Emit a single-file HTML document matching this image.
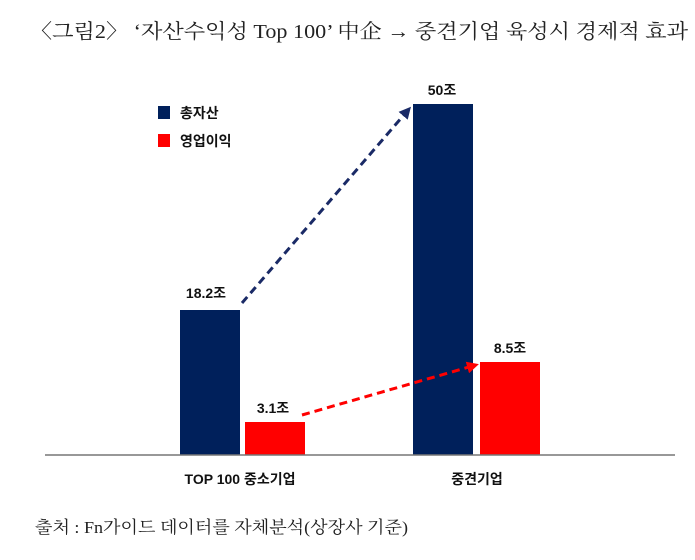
<!DOCTYPE html>
<html><head><meta charset="utf-8"><style>
body{margin:0;background:#fff;width:695px;height:555px;overflow:hidden}
</style></head><body>
<svg width="695" height="555" xmlns="http://www.w3.org/2000/svg">
<defs>
<marker id="an" markerWidth="4" markerHeight="4" refX="3" refY="2" orient="auto" markerUnits="strokeWidth"><path d="M0,0 L4,2 L0,4 z" fill="#1a2a66"/></marker>
<marker id="ar" markerWidth="4" markerHeight="4" refX="3" refY="2" orient="auto" markerUnits="strokeWidth"><path d="M0,0 L4,2 L0,4 z" fill="#ff0000"/></marker>
</defs>
<text x="30" y="38" textLength="658" lengthAdjust="spacingAndGlyphs" font-family="'Liberation Serif','Noto Serif CJK SC',serif" font-size="20" fill="#222">〈그림2〉 ‘자산수익성 Top 100’ 中企 → 중견기업 육성시 경제적 효과</text>
<rect x="158" y="106" width="12" height="13" fill="#00205b"/>
<text x="180" y="118" font-family="'Liberation Sans','Noto Sans CJK KR',sans-serif" font-size="14" font-weight="bold" fill="#111">총자산</text>
<rect x="158" y="134" width="12" height="13" fill="#ff0000"/>
<text x="180" y="146" font-family="'Liberation Sans','Noto Sans CJK KR',sans-serif" font-size="14" font-weight="bold" fill="#111">영업이익</text>
<rect x="180" y="310" width="60" height="145" fill="#00205b"/>
<rect x="245" y="422" width="60" height="33" fill="#ff0000"/>
<rect x="413" y="104" width="60" height="351" fill="#00205b"/>
<rect x="480" y="362" width="60" height="93" fill="#ff0000"/>
<line x1="45" y1="455" x2="675" y2="455" stroke="#777" stroke-width="1.5"/>
<line x1="242" y1="303" x2="409" y2="109" stroke="#1a2a66" stroke-width="3" stroke-dasharray="8,5" marker-end="url(#an)"/>
<line x1="302" y1="415" x2="476" y2="365" stroke="#ff0000" stroke-width="3" stroke-dasharray="8,5" marker-end="url(#ar)"/>
<g font-family="'Liberation Sans','Noto Sans CJK KR',sans-serif" font-size="14" font-weight="bold" fill="#111" text-anchor="middle">
<text x="206" y="298">18.2조</text>
<text x="273" y="413">3.1조</text>
<text x="442" y="95">50조</text>
<text x="510" y="353">8.5조</text>
<text x="240" y="484">TOP 100 중소기업</text>
<text x="477" y="484">중견기업</text>
</g>
<text x="35" y="533" textLength="373" lengthAdjust="spacingAndGlyphs" font-family="'Liberation Serif','Noto Serif CJK SC',serif" font-size="17" fill="#222">출처 : Fn가이드 데이터를 자체분석(상장사 기준)</text>
</svg>
</body></html>
